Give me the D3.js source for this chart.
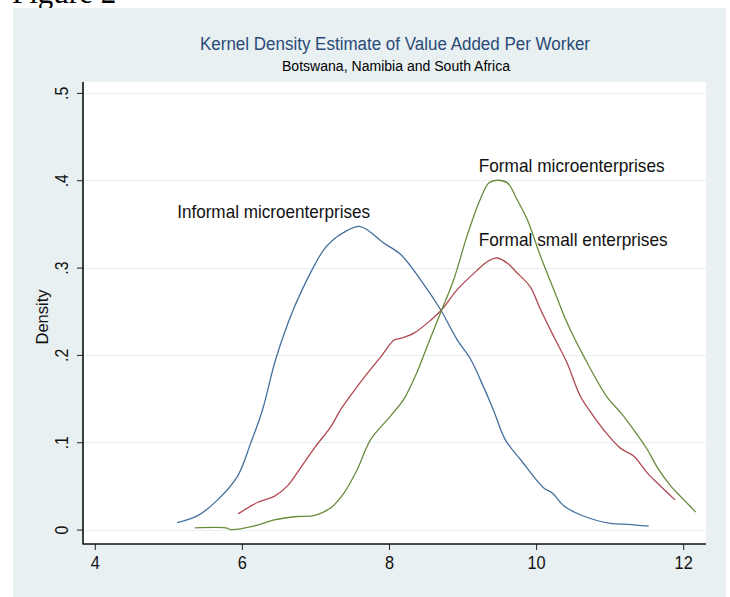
<!DOCTYPE html>
<html><head><meta charset="utf-8">
<script src="https://cdn.jsdelivr.net/npm/d3@7"></script>
<style>
html,body{margin:0;padding:0;background:#fff;}
svg{display:block;}
text{font-family:"Liberation Sans",Arial,sans-serif;}
</style></head>
<body>
<svg id="chart" width="730" height="597"></svg>
<script>
// ---- data ----
const xTicks = [4, 6, 8, 10, 12];
const yTicks = [0, 0.1, 0.2, 0.3, 0.4, 0.5];
const yTickLabels = ["0", ".1", ".2", ".3", ".4", ".5"];

const informalX = [5.12,5.40,5.67,5.94,6.12,6.28,6.46,6.70,6.97,7.11,7.23,7.38,7.61,7.93,8.16,8.43,8.70,8.93,9.11,9.24,9.42,9.58,9.79,10.10,10.22,10.38,10.60,11.01,11.24,11.53];
const informalY = [0.008,0.016,0.034,0.061,0.099,0.137,0.195,0.252,0.300,0.320,0.331,0.340,0.347,0.328,0.315,0.286,0.252,0.217,0.195,0.172,0.137,0.103,0.080,0.048,0.042,0.027,0.017,0.007,0.006,0.004];

const smallX = [5.95,6.21,6.44,6.62,6.80,7.00,7.21,7.34,7.50,7.66,7.89,8.07,8.16,8.34,8.57,8.72,8.93,9.20,9.34,9.47,9.61,9.74,9.92,10.06,10.24,10.42,10.60,10.78,10.97,11.15,11.33,11.51,11.69,11.89];
const smallY = [0.018,0.031,0.038,0.050,0.071,0.095,0.118,0.137,0.156,0.174,0.198,0.217,0.219,0.225,0.240,0.252,0.275,0.297,0.307,0.311,0.305,0.294,0.278,0.252,0.221,0.191,0.153,0.130,0.109,0.093,0.084,0.065,0.050,0.034];

const microX = [5.36,5.78,5.85,6.16,6.44,6.75,6.98,7.21,7.39,7.57,7.75,8.02,8.20,8.38,8.52,8.70,8.88,9.06,9.24,9.36,9.47,9.61,9.74,9.88,10.06,10.24,10.42,10.65,10.97,11.15,11.33,11.51,11.65,11.83,12.01,12.17];
const microY = [0.002,0.002,0.000,0.004,0.011,0.015,0.016,0.025,0.042,0.069,0.103,0.130,0.149,0.180,0.210,0.248,0.286,0.336,0.378,0.397,0.400,0.397,0.378,0.355,0.313,0.275,0.237,0.198,0.151,0.134,0.114,0.092,0.071,0.050,0.034,0.020];

const seriesNames = ["Informal microenterprises", "Formal small enterprises", "Formal microenterprises"];
const labelX = [5.12, 9.22, 9.22];      // data coords of label start
const labelY = [0.357, 0.325, 0.410];   // data coords of label baseline

const titleText = "Kernel Density Estimate of Value Added Per Worker";
const subtitleText = "Botswana, Namibia and South Africa";
const yAxisTitle = "Density";

// ---- drawing ----
const svg = d3.select("#chart");
const plot = {left: 83, right: 706, top: 82, bottom: 544};

// condense a text element horizontally (narrow look of the reference font)
function condense(sel, f) {
  sel.each(function () {
    const w = this.getComputedTextLength();
    d3.select(this).attr("textLength", w * f).attr("lengthAdjust", "spacingAndGlyphs");
  });
}

// figure caption (cut off at top, as in the reference)
svg.append("text").attr("x", 12).attr("y", 3)
  .style("font-family", "'Liberation Serif','Times New Roman',serif")
  .attr("font-size", 31).attr("fill", "#000").text("Figure 2");

// graph region
svg.append("rect").attr("x", 13).attr("y", 8).attr("width", 713).attr("height", 589).attr("fill", "#e8f0f2");
// plot region
svg.append("rect").attr("x", plot.left).attr("y", plot.top)
  .attr("width", plot.right - plot.left).attr("height", plot.bottom - plot.top).attr("fill", "#fff");

const x = d3.scaleLinear().domain([3.84, 12.31]).range([plot.left, plot.right]);
const y = d3.scaleLinear().domain([-0.0165, 0.5125]).range([plot.bottom, plot.top]);

// gridlines
svg.append("g").selectAll("line").data(yTicks).join("line")
  .attr("x1", plot.left).attr("x2", plot.right)
  .attr("y1", d => Math.round(y(d)) + 0.5).attr("y2", d => Math.round(y(d)) + 0.5)
  .attr("stroke", "#e6eff1").attr("stroke-width", 1.2);

// axes
const yAxis = d3.axisLeft(y).tickValues(yTicks).tickSize(6).tickFormat((d, i) => yTickLabels[i]);
const gy = svg.append("g").attr("transform", `translate(${plot.left},0)`).call(yAxis);
gy.select(".domain").remove();
gy.selectAll(".tick line").attr("stroke", "#222").attr("stroke-width", 1);
gy.selectAll(".tick text").attr("x", 0).attr("dy", 0)
  .attr("transform", "translate(-15,0) rotate(-90)")
  .attr("text-anchor", "middle").attr("font-size", 18).attr("fill", "#111")
  .style("font-family", "'Liberation Sans',Arial,sans-serif");
condense(gy.selectAll(".tick text"), 0.88);

const xAxis = d3.axisBottom(x).tickValues(xTicks).tickSize(6).tickFormat(d3.format("d"));
const gx = svg.append("g").attr("transform", `translate(0,${plot.bottom})`).call(xAxis);
gx.select(".domain").remove();
gx.selectAll(".tick line").attr("stroke", "#222").attr("stroke-width", 1);
gx.selectAll(".tick text").attr("y", 12).attr("dy", "0.71em").attr("font-size", 19).attr("fill", "#111")
  .style("font-family", "'Liberation Sans',Arial,sans-serif");
condense(gx.selectAll(".tick text"), 0.86);

// axis lines
svg.append("line").attr("x1", plot.left).attr("x2", plot.left).attr("y1", plot.top).attr("y2", plot.bottom + 0.5)
  .attr("stroke", "#111").attr("stroke-width", 1.6);
svg.append("line").attr("x1", plot.left).attr("x2", plot.right).attr("y1", plot.bottom).attr("y2", plot.bottom)
  .attr("stroke", "#111").attr("stroke-width", 1.6);

// y title
svg.append("text").attr("transform", `translate(48,317) rotate(-90)`)
  .attr("text-anchor", "middle").attr("font-size", 17).attr("fill", "#111").text(yAxisTitle)
  .attr("textLength", 55).attr("lengthAdjust", "spacingAndGlyphs");

// titles
svg.append("text").attr("x", 395).attr("y", 50).attr("text-anchor", "middle")
  .attr("font-size", 18).attr("fill", "#2a4a78").text(titleText)
  .attr("textLength", 390).attr("lengthAdjust", "spacingAndGlyphs");
svg.append("text").attr("x", 396).attr("y", 71).attr("text-anchor", "middle")
  .attr("font-size", 14).attr("fill", "#000").text(subtitleText)
  .attr("textLength", 228).attr("lengthAdjust", "spacingAndGlyphs");

// lines
const series = [
  {xs: informalX, ys: informalY, color: "#46709d"},
  {xs: smallX, ys: smallY, color: "#b04850"},
  {xs: microX, ys: microY, color: "#6a8c3e"}
];
const line = d3.line().x(d => x(d[0])).y(d => y(d[1])).curve(d3.curveCatmullRom.alpha(0.5));
svg.append("g").selectAll("path").data(series).join("path")
  .attr("d", s => line(s.xs.map((v, i) => [v, s.ys[i]])))
  .attr("fill", "none").attr("stroke", s => s.color).attr("stroke-width", 1.3);

// labels
const labelW = [193, 189, 186];
svg.append("g").selectAll("text").data(seriesNames).join("text")
  .attr("x", (d, i) => x(labelX[i])).attr("y", (d, i) => y(labelY[i]))
  .attr("font-size", 19).attr("fill", "#111").text(d => d)
  .attr("textLength", (d, i) => labelW[i]).attr("lengthAdjust", "spacingAndGlyphs");
</script>
</body></html>
